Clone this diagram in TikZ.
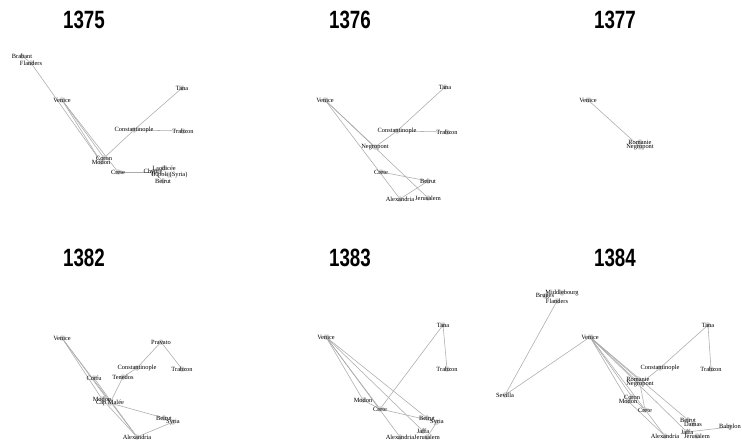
\documentclass[tikz,border=0pt]{standalone}
\usepackage{fontspec}
\setmainfont{Liberation Serif}
\newfontfamily\titlefont[FakeStretch=0.75]{Liberation Sans}
\pgfdeclarelayer{bg}
\pgfdeclarelayer{back}
\pgfsetlayers{back,bg,main}
\tikzset{
  v/.style={circle, fill=black!18, draw=none, minimum size=5.5pt, inner sep=0pt},
  lbl/.style={font=\fontsize{6.4}{6.4}\selectfont, inner sep=0pt, text=black},
  ed/.style={draw=black!33, line width=0.55pt},
  yr/.style={font=\titlefont\bfseries\fontsize{25}{25}\selectfont, inner sep=0pt}
}
\newcommand\city[4]{\node[v] (#1) at (#2,#3) {}; \node[lbl] (#1L) at (#1) {#4};}
\newcommand\edges[1]{\begin{pgfonlayer}{bg}\foreach \p/\q in {#1} \draw[ed] (\p.center) -- (\q.center);\end{pgfonlayer}}
\begin{document}
\begin{tikzpicture}[x=1pt,y=-1pt]
\begin{pgfonlayer}{back}
\fill[white] (0,0) rectangle (742,441);
\end{pgfonlayer}
\useasboundingbox (0,0) rectangle (742,441);
% titles
\node[yr] (t1) at (84,20) {1375};
\node[yr] (t2) at (350,20) {1376};
\node[yr] (t3) at (615,20) {1377};
\node[yr] (t4) at (84,258) {1382};
\node[yr] (t5) at (350,258) {1383};
\node[yr] (t6) at (615,258) {1384};
% ---------- 1375
\city{aBra}{22}{56}{Brabant}
\city{aFla}{31}{63}{Flanders}
\city{aVen}{62}{100}{Venice}
\city{aTana}{182}{88}{Tana}
\city{aCon}{134}{130}{Constantinople}
\city{aTra}{183}{131}{Trabzon}
\city{aMod}{101}{162}{Modon}
\city{aCor}{104}{158}{Coron}
\city{aCre}{118}{172}{Crete}
\city{aCyp}{153}{172}{Chypre}
\city{aLao}{164}{168}{Laodicée}
\city{aTri}{169}{175}{Tripoli (Syria)}
\city{aBei}{163}{181}{Beirut}
\edges{aBra/aFla,aFla/aMod,aVen/aCor,aVen/aMod,aVen/aCre,aCor/aCon,aCon/aTana,aCon/aTra,aCre/aCyp,aCyp/aLao,aCyp/aTri,aCyp/aBei}
% ---------- 1376
\city{bVen}{325}{100}{Venice}
\city{bTana}{445}{87}{Tana}
\city{bCon}{397}{131}{Constantinople}
\city{bTra}{447}{132}{Trabzon}
\city{bNeg}{375}{147}{Negropont}
\city{bCre}{381}{172}{Crete}
\city{bBei}{428}{181}{Beirut}
\city{bAle}{400}{199}{Alexandria}
\city{bJer}{428}{198}{Jerusalem}
\edges{bVen/bNeg,bVen/bAle,bVen/bJer,bNeg/bCon,bCon/bTana,bCon/bTra,bCre/bBei,bBei/bAle}
% ---------- 1377
\city{cVen}{588}{100}{Venice}
\city{cNeg}{640}{147}{Negropont}
\city{cRom}{640}{142}{Romanie}
\edges{cVen/cNeg}
% ---------- 1382
\city{dVen}{62}{338}{Venice}
\city{dPra}{161}{342}{Pravato}
\city{dCon}{137}{368}{Constantinople}
\city{dTra}{182}{369}{Trabzon}
\city{dCor}{94}{378}{Corfu}
\city{dTen}{123}{377}{Tenedos}
\city{dMod}{102}{399}{Modon}
\city{dCap}{110}{403}{Cap Malée}
\city{dBei}{164}{418}{Beirut}
\city{dSyr}{173}{422}{Syria}
\city{dAle}{137}{437}{Alexandria}
\edges{dVen/dMod,dVen/dCap,dVen/dAle,dCor/dAle,dMod/dAle,dCap/dTen,dTen/dCon,dCon/dPra,dPra/dTra,dCap/dBei,dSyr/dAle}
% ---------- 1383
\city{eTana}{443}{325}{Tana}
\city{eVen}{326}{337}{Venice}
\city{eTra}{447}{369}{Trabzon}
\city{eMod}{363}{400}{Modon}
\city{eCre}{380}{409}{Crete}
\city{eBei}{427}{418}{Beirut}
\city{eSyr}{437}{422}{Syria}
\city{eJaf}{423}{431}{Jaffa}
\city{eJer}{427}{437}{Jerusalem}
\city{eAle}{400}{437}{Alexandria}
\edges{eVen/eMod,eVen/eCre,eVen/eAle,eVen/eBei,eVen/eJaf,eMod/eCre,eCre/eTana,eTana/eTra,eCre/eSyr,eSyr/eJer}
% ---------- 1384
\city{fMid}{562}{293}{Middlebourg}
\city{fBru}{545}{296}{Bruges}
\city{fFla}{557}{301}{Flanders}
\city{fVen}{590}{337}{Venice}
\city{fTana}{708}{325}{Tana}
\city{fTra}{711}{369}{Trabzon}
\city{fCon}{660}{368}{Constantinople}
\city{fSev}{505}{395}{Sevilla}
\city{fRom}{638}{379}{Romanie}
\city{fNeg}{640}{384}{Negropont}
\city{fCor}{632}{397}{Coron}
\city{fMod}{628}{401}{Modon}
\city{fCre}{645}{410}{Crete}
\city{fBei}{688}{420}{Beirut}
\city{fDam}{693}{424}{Damas}
\city{fJaf}{687}{432}{Jaffa}
\city{fJer}{697}{436}{Jerusalem}
\city{fAle}{665}{436}{Alexandria}
\city{fBab}{730}{427}{Babylon}
\edges{fFla/fSev,fSev/fVen,fVen/fRom,fVen/fNeg,fVen/fCor,fVen/fMod,fVen/fAle,fVen/fBei,fVen/fJaf,fNeg/fCon,fCon/fTana,fTana/fTra,fCor/fCre,fNeg/fCre,fMod/fAle,fJaf/fBab}
\end{tikzpicture}
\end{document}
